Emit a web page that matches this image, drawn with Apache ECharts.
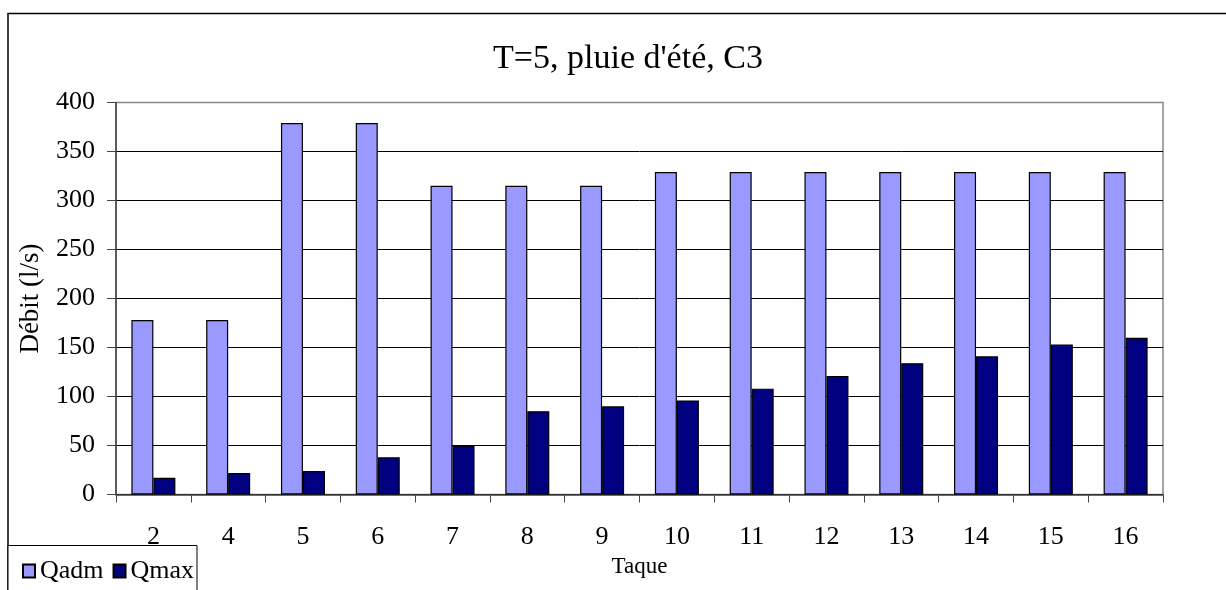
<!DOCTYPE html>
<html>
<head>
<meta charset="utf-8">
<script src="https://cdn.jsdelivr.net/npm/echarts@6/dist/echarts.min.js"></script>
<style>
html,body{margin:0;padding:0;background:#fff;}
#c{width:1226px;height:590px;}
</style>
</head>
<body>
<div id="c"></div>
<script>
const categories = ['2','4','5','6','7','8','9','10','11','12','13','14','15','16'];
const qadm = [178,178,379,379,315,315,315,329,329,329,329,329,329,329];
const qmax = [17,22,24,38,50,85,90,96,108,121,134,141,153,160];
const yTicks = [0,50,100,150,200,250,300,350,400];

const FONT = '"Liberation Serif","Times New Roman",serif';
const chart = echarts.init(document.getElementById('c'), null, {renderer:'canvas'});
const gridColors = yTicks.map((v,i)=> i===yTicks.length-1 ? '#888' : '#000');
chart.setOption({
  animation:false,
  backgroundColor:'#fff',
  title:{
    text:'T=5, pluie d\'été, C3',
    left:623, top:37, textAlign:'center',
    textStyle:{fontFamily:FONT,fontSize:34,fontWeight:'normal',color:'#000'}
  },
  legend:{
    left:17, top:553, itemWidth:12, itemHeight:13, itemGap:9,
    textStyle:{fontFamily:FONT,fontSize:26,color:'#000',padding:[0,0,0,0]},
    data:[{name:'Qadm',icon:'rect'},{name:'Qmax',icon:'rect'}]
  },
  grid:{
    left:116, right:63, top:102.5, bottom:95.5,
    show:true, borderColor:'#888', borderWidth:1.5, backgroundColor:'transparent'
  },
  xAxis:{
    type:'category', data:categories,
    name:'Taque', nameLocation:'middle', nameGap:60,
    nameTextStyle:{fontFamily:FONT,fontSize:23,color:'#000'},
    axisLine:{lineStyle:{color:'#444',width:1.5}},
    axisTick:{show:true,length:8,inside:false,lineStyle:{color:'#444'}},
    axisLabel:{fontFamily:FONT,fontSize:26,color:'#000',margin:30}
  },
  yAxis:{
    type:'value', min:yTicks[0], max:yTicks[yTicks.length-1], interval:50,
    name:'Débit (l/s)', nameLocation:'middle', nameGap:72, nameRotate:90,
    nameTextStyle:{fontFamily:FONT,fontSize:27,color:'#000'},
    axisLine:{show:true,lineStyle:{color:'#444',width:1.5}},
    axisTick:{show:true,length:9,lineStyle:{color:'#444'}},
    axisLabel:{fontFamily:FONT,fontSize:26,color:'#000',margin:21},
    splitLine:{show:true,lineStyle:{color:gridColors,width:1}}
  },
  series:[
    {name:'Qadm',type:'bar',data:qadm,barWidth:22,barGap:'0%',
     itemStyle:{color:'#9999FF',borderColor:'#000',borderWidth:1.2}},
    {name:'Qmax',type:'bar',data:qmax,barWidth:22,barGap:'0%',
     itemStyle:{color:'#000080',borderColor:'#000',borderWidth:1.2}}
  ],
  graphic:[
    {type:'rect',shape:{x:8,y:13.5,width:1300,height:700},
     style:{fill:null,stroke:'#000',lineWidth:1.5},silent:true,z:-1},
    {type:'rect',shape:{x:8,y:545.5,width:189,height:100},
     style:{fill:'#fff',stroke:'#000',lineWidth:1},silent:true,z:-1}
  ]
});
</script>
</body>
</html>
